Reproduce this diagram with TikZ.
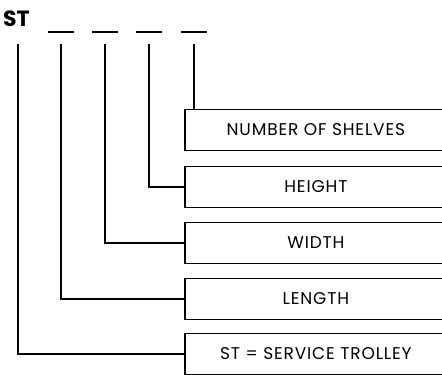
\documentclass[tikz,border=0pt]{standalone}
\usepackage{fontspec}
\setmainfont{Poppins}
\newfontfamily\boxfont[LetterSpace=5]{Poppins}
\begin{document}
\begin{tikzpicture}[x=1pt,y=1pt,
  box/.style={draw, line width=1.8pt, minimum width=262pt, minimum height=41pt, anchor=west, inner sep=0pt, font=\boxfont\fontsize{17}{19}\selectfont},
  slot/.style={fill=black, inner sep=0pt, minimum width=26pt, minimum height=2.6pt},
  conn/.style={line width=2pt}]
\useasboundingbox (0,0) rectangle (442,375);
\node[anchor=base west, font=\bfseries\fontsize{22}{24}\selectfont, inner sep=0pt] (st) at (3,348) {ST};
\node[slot] (s1) at (61,343) {};
\node[slot] (s2) at (105,343) {};
\node[slot] (s3) at (149,343) {};
\node[slot] (s4) at (193.5,343) {};
\coordinate (v0) at (18,331);
\coordinate (v1) at (s1 |- v0);
\coordinate (v2) at (s2 |- v0);
\coordinate (v3) at (s3 |- v0);
\coordinate (v4) at (s4 |- v0);
\node[box] (b1) at (184,245) {NUMBER OF SHELVES};
\node[box] (b2) at (184,188) {HEIGHT};
\node[box] (b3) at (184,132) {WIDTH};
\node[box] (b4) at (184,76) {LENGTH};
\node[box] (b5) at (184,21) {ST = SERVICE TROLLEY};
\draw[conn] (v4) -- (v4 |- b1.north);
\draw[conn] (v3) |- (b2.west);
\draw[conn] (v2) |- (b3.west);
\draw[conn] (v1) |- (b4.west);
\draw[conn] (v0) |- (b5.west);
\end{tikzpicture}
\end{document}
